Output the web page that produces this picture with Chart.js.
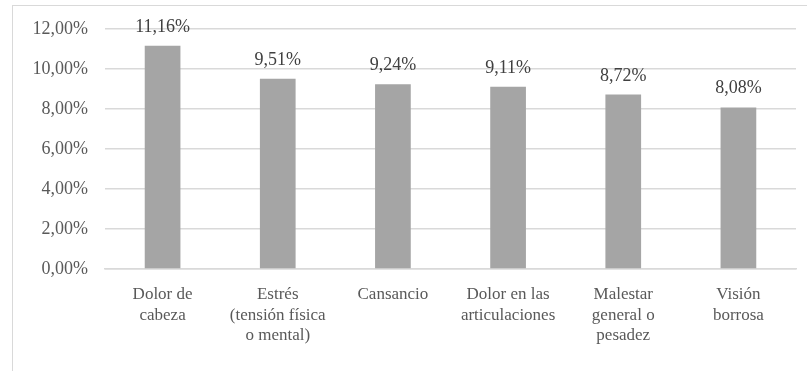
<!DOCTYPE html>
<html lang="es">
<head>
  <meta charset="UTF-8">
  <title>Síntomas</title>
  <script src="https://cdn.jsdelivr.net/npm/chart.js"></script>
  <style>
    html, body { margin: 0; padding: 0; background: #fff; }
    #wrap { position: relative; width: 807px; height: 371px; overflow: hidden; }
    #frame {
      position: absolute; left: 12px; top: 5px; width: 830px; height: 400px;
      border: 1.5px solid #d9d9d9; box-sizing: border-box;
    }
    #chart { position: absolute; left: 0; top: 0; }
  </style>
</head>
<body>
  <div id="wrap">
    <div id="frame"></div>
    <canvas id="chart" width="807" height="371"></canvas>
  </div>

  <script>
    const categories = [
      ['Dolor de', 'cabeza'],
      ['Estrés', '(tensión física', 'o mental)'],
      ['Cansancio'],
      ['Dolor en las', 'articulaciones'],
      ['Malestar', 'general o', 'pesadez'],
      ['Visión', 'borrosa']
    ];
    const values = [11.16, 9.51, 9.24, 9.11, 8.72, 8.08];
    const yTicks = [0, 2, 4, 6, 8, 10, 12];

    const fmt = v => v.toFixed(2).replace('.', ',') + '%';
    const serif = '"Liberation Serif", "Times New Roman", serif';

    // writes the percentage above each bar
    const valueLabels = {
      id: 'valueLabels',
      afterDatasetsDraw(chart) {
        const ctx = chart.ctx;
        const meta = chart.getDatasetMeta(0);
        ctx.save();
        ctx.font = '18px ' + serif;
        ctx.fillStyle = '#404040';
        ctx.textAlign = 'center';
        ctx.textBaseline = 'alphabetic';
        meta.data.forEach((bar, i) => {
          ctx.fillText(fmt(values[i]), bar.x, bar.y - 14);
        });
        ctx.restore();
      }
    };

    new Chart(document.getElementById('chart'), {
      type: 'bar',
      data: {
        labels: categories,
        datasets: [{
          data: values,
          backgroundColor: '#a5a5a5',
          barPercentage: 0.31,
          categoryPercentage: 1
        }]
      },
      options: {
        responsive: false,
        animation: false,
        layout: { padding: { top: 29, right: 11, left: 0, bottom: 0 } },
        plugins: { legend: { display: false }, tooltip: { enabled: false } },
        scales: {
          x: {
            grid: { display: false },
            border: { color: '#d9d9d9', width: 1.5 },
            ticks: {
              color: '#595959',
              font: { family: serif, size: 17, lineHeight: 1.18 },
              padding: 8,
              maxRotation: 0,
              autoSkip: false
            },
            afterFit(axis) { axis.height = 102; }
          },
          y: {
            min: 0,
            max: 12,
            afterBuildTicks(axis) { axis.ticks = yTicks.map(v => ({ value: v })); },
            grid: { color: '#d9d9d9', lineWidth: 1.5, drawTicks: false },
            border: { display: false },
            ticks: {
              color: '#595959',
              font: { family: serif, size: 18 },
              padding: 17,
              callback: v => fmt(v)
            },
            afterFit(axis) { axis.width = 105; }
          }
        }
      },
      plugins: [valueLabels]
    });
  </script>
</body>
</html>
